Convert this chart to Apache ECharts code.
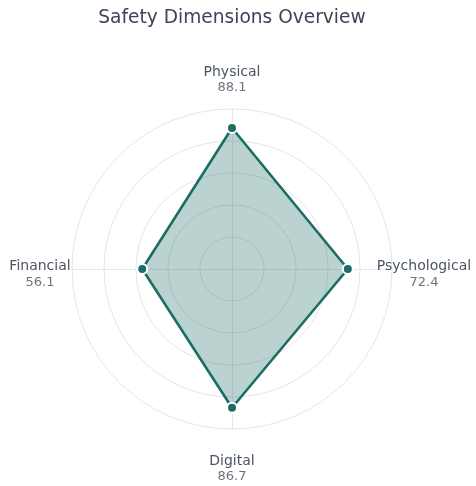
<!DOCTYPE html>
<html><head><meta charset="utf-8">
<script src="https://cdn.jsdelivr.net/npm/echarts@6/dist/echarts.min.js"></script>
<style>html,body{margin:0;padding:0;background:#fff}#c{width:476px;height:486px}</style>
</head><body><div id="c"></div>
<script>
const dimensions = ['Physical', 'Psychological', 'Digital', 'Financial'];
const scores = [88.1, 72.4, 86.7, 56.1];
const maxValue = 100;
const title = 'Safety Dimensions Overview';

// ECharts lays indicators counter-clockwise; reorder so they run clockwise from the top
const order = [0, 3, 2, 1];

const chart = echarts.init(document.getElementById('c'));
chart.setOption({
  animation: false,
  title: { text: title, left: 227, textAlign: 'center', top: 4,
    textStyle: { fontFamily: 'DejaVu Sans', fontSize: 18.6, fontWeight: 'normal', color: '#3b4557' } },
  radar: {
    center: [232, 269], radius: 160, shape: 'circle', splitNumber: 5, startAngle: 90,
    indicator: order.map((i) => ({ name: dimensions[i], max: maxValue })),
    nameGap: 13,
    axisName: {
      formatter: (name) => {
        const i = dimensions.indexOf(name);
        return '{s| }\n{n|' + name + '}\n{v|' + scores[i] + '}';
      },
      rich: {
        s: { fontSize: 1, lineHeight: 11, width: 38 },
        n: { fontFamily: 'DejaVu Sans', fontSize: 14, color: '#4b5563', align: 'center', lineHeight: 16, width: 38 },
        v: { fontFamily: 'DejaVu Sans', fontSize: 13, color: '#6b7280', align: 'center', lineHeight: 16, width: 38 }
      }
    },
    splitLine: { lineStyle: { color: '#e3e5e8', width: 1 } },
    splitArea: { show: false },
    axisLine: { lineStyle: { color: '#e3e5e8', width: 1 } }
  },
  series: [{
    type: 'radar',
    symbol: 'circle', symbolSize: 10,
    lineStyle: { color: '#1b6e63', width: 2.6 },
    itemStyle: { color: '#1b6e63', borderColor: '#fff', borderWidth: 2 },
    areaStyle: { color: '#1b6e63', opacity: 0.3 },
    data: [{ value: order.map((i) => scores[i]), name: 'Score' }]
  }]
});
</script></body></html>
